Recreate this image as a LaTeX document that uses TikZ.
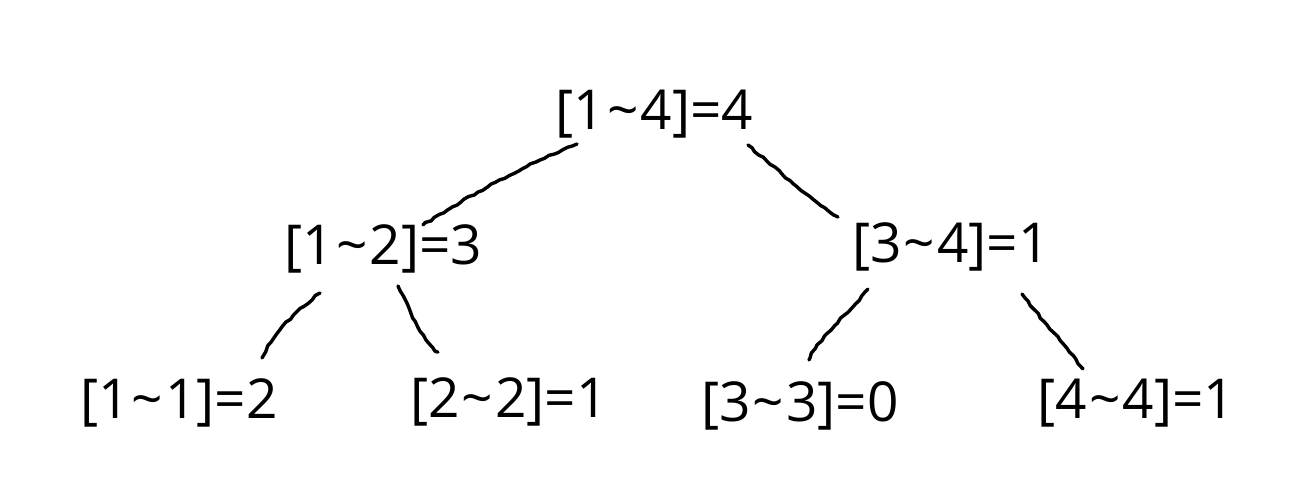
\documentclass[tikz,border=0pt]{standalone}
\usepackage{fontspec}
\setmainfont{Open Sans}
\usetikzlibrary{decorations.pathmorphing}
\newcommand{\tld}{\kern2pt\symbol{"7E}\kern2pt}
\begin{document}
\begin{tikzpicture}[x=1pt,y=-1pt,
  lbl/.style={anchor=base,inner sep=0pt,font=\fontsize{55}{62}\selectfont},
  edge/.style={line width=3.4pt,line cap=round,line join=round,
    decorate,decoration={random steps,segment length=5pt,amplitude=0.9pt}}]
\pgfmathsetseed{7}
\useasboundingbox[fill=white] (0,0) rectangle (1315,486);
% nodes
\node[lbl] (n14) at (654.5,130) {[1\tld4]=4};
\node[lbl] (n12) at (383.5,265) {[1\tld2]=3};
\node[lbl] (n34) at (951,263) {[3\tld4]=1};
\node[lbl] (n11) at (179,418) {[1\tld1]=2};
\node[lbl] (n22) at (509,417) {[2\tld2]=1};
\node[lbl] (n33) at (800,421) {[3\tld3]=0};
\node[lbl] (n44) at (1136.5,418) {[4\tld4]=1};
% connector ends
\coordinate (a1) at (577,144); \coordinate (b1) at (423,225);
\coordinate (a2) at (748,145); \coordinate (b2) at (838,217);
\coordinate (a3) at (320,293); \coordinate (b3) at (262,358);
\coordinate (a4) at (398,286); \coordinate (b4) at (438,352);
\coordinate (a5) at (868,289); \coordinate (b5) at (809,360);
\coordinate (a6) at (1022,294); \coordinate (b6) at (1083,369);
\draw[edge] (a1) .. controls (530,162) and (470,195) .. (b1);
\draw[edge] (a2) .. controls (775,168) and (805,195) .. (b2);
\draw[edge] (a3) .. controls (295,312) and (272,335) .. (b3);
\draw[edge] (a4) .. controls (408,305) and (420,340) .. (b4);
\draw[edge] (a5) .. controls (850,312) and (820,335) .. (b5);
\draw[edge] (a6) .. controls (1040,318) and (1065,345) .. (b6);
\end{tikzpicture}
\end{document}
